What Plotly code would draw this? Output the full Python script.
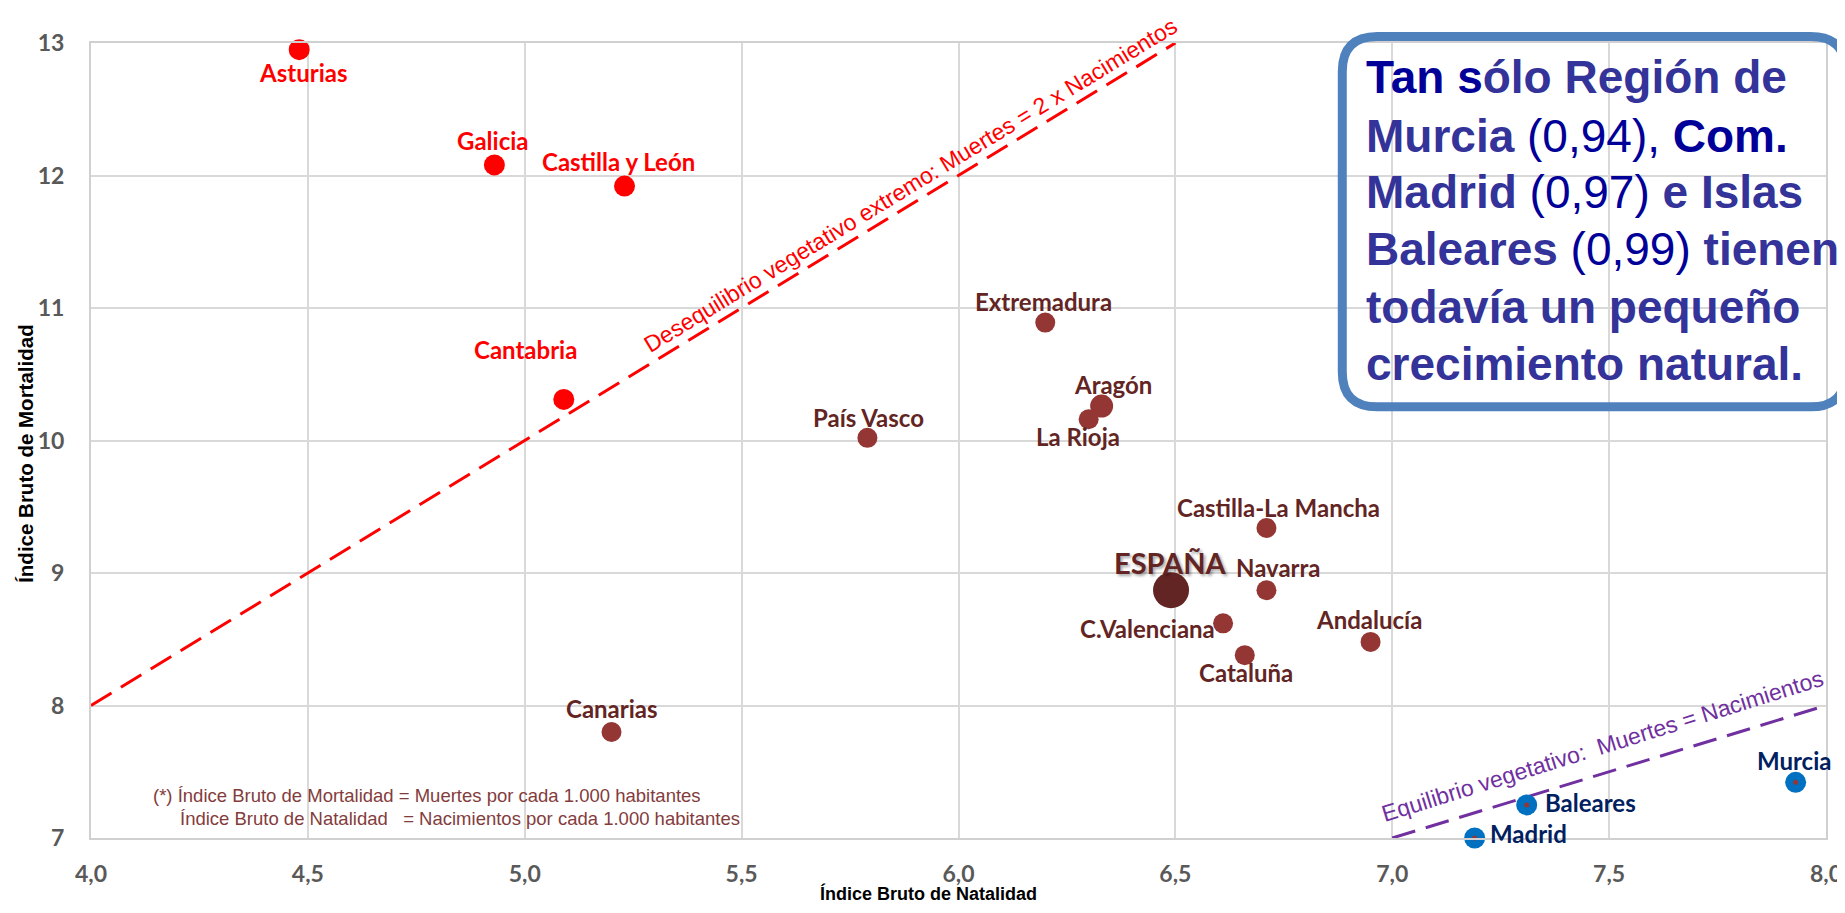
import plotly.graph_objects as go

# ---------------- data ----------------
red_names = ["Asturias", "Galicia", "Castilla y León", "Cantabria"]
red_natalidad = [4.48, 4.93, 5.23, 5.09]
red_mortalidad = [12.95, 12.08, 11.92, 10.31]

brown_names = ["País Vasco", "Extremadura", "Aragón", "La Rioja", "Castilla-La Mancha",
               "Navarra", "C.Valenciana", "Cataluña", "Andalucía", "Canarias"]
brown_natalidad = [5.79, 6.20, 6.33, 6.30, 6.71, 6.71, 6.61, 6.66, 6.95, 5.20]
brown_mortalidad = [10.02, 10.89, 10.26, 10.16, 9.34, 8.87, 8.62, 8.38, 8.48, 7.80]

blue_names = ["Murcia", "Baleares", "Madrid"]
blue_natalidad = [7.93, 7.31, 7.19]
blue_mortalidad = [7.42, 7.25, 7.00]

espana_name = ["ESPAÑA"]
espana_natalidad = [6.49]
espana_mortalidad = [8.87]

line2x_natalidad = [4.0, 6.5]
line2x_mortalidad = [8.0, 13.0]
line1x_natalidad = [7.0, 8.0]
line1x_mortalidad = [7.0, 8.0]

x_ticks = [4.0, 4.5, 5.0, 5.5, 6.0, 6.5, 7.0, 7.5, 8.0]
y_ticks = [7, 8, 9, 10, 11, 12, 13]

# ---------------- layout helpers ----------------
OFF = 8                      # default page body margin
W, H = 1837, 905
ML, MT = 83, 35
PW, PH = 1735.3, 795.3
MR = W - ML - PW
MB = H - MT - PH


def px_x(px):               # screen pixel -> paper
    return (px - OFF - ML) / PW


def px_y(py):
    return (MT + PH - (py - OFF)) / PH


LABEL_FONT = "Lato"
BROWN = "#943634"
BROWN_TXT = "#632523"
RED = "#FF0000"
BLUE = "#0070C0"
BLUE_TXT = "#002060"

fig = go.Figure()

fig.add_trace(go.Scatter(x=line2x_natalidad, y=line2x_mortalidad, mode="lines",
                         line=dict(color=RED, width=3, dash="24px,11px"),
                         hoverinfo="skip", showlegend=False))
fig.add_trace(go.Scatter(x=line1x_natalidad, y=line1x_mortalidad, mode="lines",
                         line=dict(color="#7030A0", width=3, dash="24px,11px"),
                         hoverinfo="skip", showlegend=False, cliponaxis=False))

fig.add_trace(go.Scatter(x=red_natalidad, y=red_mortalidad, mode="markers", text=red_names,
                         marker=dict(color=RED, size=21, opacity=1, line=dict(width=0)),
                         showlegend=False, cliponaxis=False))
brown_sizes = [20 if n != "Aragón" else 23 for n in brown_names]
fig.add_trace(go.Scatter(x=brown_natalidad, y=brown_mortalidad, mode="markers", text=brown_names,
                         marker=dict(color=BROWN, size=brown_sizes, opacity=1, line=dict(width=0)),
                         showlegend=False, cliponaxis=False))
fig.add_trace(go.Scatter(x=espana_natalidad, y=espana_mortalidad, mode="markers", text=espana_name,
                         marker=dict(color="#632523", size=36, opacity=1, line=dict(width=0)),
                         showlegend=False, cliponaxis=False))
fig.add_trace(go.Scatter(x=blue_natalidad, y=blue_mortalidad, mode="markers", text=blue_names,
                         marker=dict(color=BLUE, size=21, opacity=1, line=dict(width=0)),
                         showlegend=False, cliponaxis=False))
fig.add_trace(go.Scatter(x=blue_natalidad, y=blue_mortalidad, mode="markers",
                         marker=dict(color=BROWN, size=5, line=dict(width=0)), hoverinfo="skip",
                         showlegend=False, cliponaxis=False))

annotations = []

# label placements (pixel offsets from point)
offsets = {
    "Asturias": (4, -23, "center"), "Galicia": (-2, 24, "center"),
    "Castilla y León": (-6, 25, "center"), "Cantabria": (-38, 50, "center"),
    "País Vasco": (1, 20, "center"), "Extremadura": (-2, 21, "center"),
    "Aragón": (11, 22, "center"), "La Rioja": (-11, -17, "center"),
    "Castilla-La Mancha": (12, 20, "center"), "Navarra": (12, 23, "center"),
    "C.Valenciana": (-6, -5, "right"), "Cataluña": (1, -17, "center"),
    "Andalucía": (-2, 22, "center"), "Canarias": (0, 24, "center"),
    "Murcia": (-2, 22, "center"), "Baleares": (16, 2, "left"), "Madrid": (13, 5, "left"),
}


def add_labels(names, xs, ys, color):
    for n, xv, yv in zip(names, xs, ys):
        dx, dy, anc = offsets[n]
        annotations.append(dict(x=xv, y=yv, xref="x", yref="y", text=n, showarrow=False,
                                xanchor=anc, yanchor="middle", xshift=dx, yshift=dy,
                                font=dict(family=LABEL_FONT, size=24, color=color, weight="bold")))


add_labels(red_names, red_natalidad, red_mortalidad, RED)
add_labels(brown_names, brown_natalidad, brown_mortalidad, BROWN_TXT)
add_labels(blue_names, blue_natalidad, blue_mortalidad, BLUE_TXT)

annotations.append(dict(x=espana_natalidad[0], y=espana_mortalidad[0], xref="x", yref="y",
                        text=espana_name[0], showarrow=False, xanchor="center", yanchor="middle",
                        xshift=-1, yshift=28,
                        font=dict(family=LABEL_FONT, size=29, color="#632523", weight="bold",
                                  shadow="2px 2px 3px rgba(0,0,0,0.35)")))

# line texts
annotations.append(dict(x=5.89, y=11.925, xref="x", yref="y",
                        text="Desequilibrio vegetativo extremo: Muertes = 2 x Nacimientos",
                        showarrow=False, textangle=-31.4,
                        font=dict(family="Liberation Sans", size=23, color=RED)))
annotations.append(dict(x=7.484, y=7.696, xref="x", yref="y",
                        text="Equilibrio vegetativo:\u00a0 Muertes = Nacimientos",
                        showarrow=False, textangle=-17.3,
                        font=dict(family="Liberation Sans", size=23, color="#7030A0")))

# footnote
FOOT = "#833C3C"
annotations.append(dict(x=px_x(151), y=px_y(796), xref="paper", yref="paper", xanchor="left",
                        yanchor="middle", showarrow=False,
                        text="(*) Índice Bruto de Mortalidad = Muertes por cada 1.000 habitantes",
                        font=dict(family="Liberation Sans", size=18.5, color=FOOT)))
annotations.append(dict(x=px_x(178), y=px_y(819), xref="paper", yref="paper", xanchor="left",
                        yanchor="middle", showarrow=False,
                        text="Índice Bruto de Natalidad\u00a0\u00a0 = Nacimientos por cada 1.000 habitantes",
                        font=dict(family="Liberation Sans", size=18.5, color=FOOT)))

# axis titles
annotations.append(dict(x=px_x(929), y=px_y(894), xref="paper", yref="paper", showarrow=False,
                        text="<b>Índice Bruto de Natalidad</b>", xanchor="center", yanchor="middle",
                        font=dict(family="Liberation Sans", size=18, color="#000000")))
annotations.append(dict(x=px_x(26), y=px_y(454), xref="paper", yref="paper", showarrow=False,
                        text="<b>Índice Bruto de Mortalidad</b>", textangle=-90,
                        xanchor="center", yanchor="middle",
                        font=dict(family="Liberation Sans", size=20.5, color="#000000")))

# box text
D = "#000099"
P = "#333399"
box_lines = [
    f"<b><span style='color:{D}'>Tan s</span><span style='color:{P}'>ólo Región de</span></b>",
    f"<b><span style='color:{P}'>Murcia</span></b><span style='color:{D}'> (0,94), </span><b><span style='color:{D}'>Com.</span></b>",
    f"<b><span style='color:{P}'>Madrid</span></b><span style='color:{D}'> (0,97) </span><b><span style='color:{P}'>e Islas</span></b>",
    f"<b><span style='color:{P}'>Baleares</span></b><span style='color:{D}'> (0,99) </span><b><span style='color:{P}'>tienen</span></b>",
    f"<b><span style='color:{P}'>todavía un pequeño</span></b>",
    f"<b><span style='color:{P}'>crecimiento natural.</span></b>",
]
baselines = [93.3, 151.7, 208.3, 265, 323, 380]
for t, b in zip(box_lines, baselines):
    annotations.append(dict(x=px_x(1364), y=px_y(b - 16), xref="paper", yref="paper",
                            xanchor="left", yanchor="middle", showarrow=False, text=t,
                            font=dict(family="Liberation Sans", size=46, color=P)))

# rounded box
bl, bt, br, bb, r = 1342.5, 36.5, 1846, 407, 35
rx, ry = r / PW, r / PH
L, T, R, B = px_x(bl), px_y(bt), px_x(br), px_y(bb)
path = (f"M {L+rx},{T} L {R-rx},{T} Q {R},{T} {R},{T-ry} L {R},{B+ry} Q {R},{B} {R-rx},{B} "
        f"L {L+rx},{B} Q {L},{B} {L},{B+ry} L {L},{T-ry} Q {L},{T} {L+rx},{T} Z")
shapes = [dict(type="path", xref="paper", yref="paper", path=path,
               line=dict(color="#4F81BD", width=9), fillcolor="rgba(0,0,0,0)", layer="above")]

tickfont = dict(family=LABEL_FONT, size=23, color="#595959", weight="bold")
fig.update_layout(
    width=W, height=H, margin=dict(l=ML, r=MR, t=MT, b=MB, autoexpand=False),
    paper_bgcolor="white", plot_bgcolor="white", separators=",.",
    annotations=annotations, shapes=shapes, showlegend=False,
    xaxis=dict(range=[4, 8], tickvals=x_ticks, tickformat=".1f", showgrid=True,
               gridcolor="#D9D9D9", gridwidth=2, zeroline=False, showline=True,
               linecolor="#D0D0D0", linewidth=2, mirror=True, tickfont=tickfont,
               ticks="", ticklabelstandoff=14, automargin=False),
    yaxis=dict(range=[7, 13], tickvals=y_ticks, showgrid=True, gridcolor="#D9D9D9",
               gridwidth=2, zeroline=False, showline=True, linecolor="#D0D0D0", linewidth=2,
               mirror=True, tickfont=tickfont, ticks="", ticklabelstandoff=20, automargin=False),
)

fig.write_html("out.html")
